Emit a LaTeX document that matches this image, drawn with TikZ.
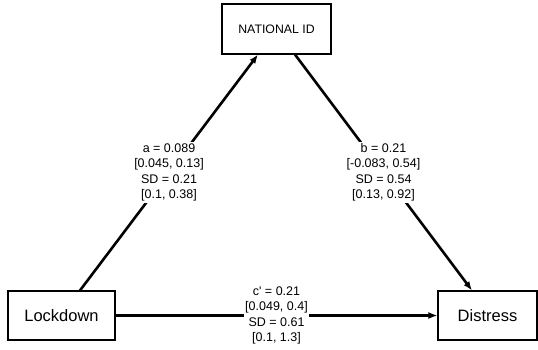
\documentclass[tikz,border=0pt]{standalone}
\usepackage{fontspec}
\setmainfont{Liberation Sans}
\usetikzlibrary{arrows.meta}
\begin{document}
\begin{tikzpicture}[x=1pt,y=-1pt,
  box/.style={draw,line width=1.1pt,fill=white,inner sep=0pt},
  conn/.style={line width=2.6pt,-{Latex[length=9pt,width=7pt]}},
  lab/.style={fill=white,align=center,font=\fontsize{12.5}{15.5}\selectfont,inner sep=1.5pt}]
\useasboundingbox (0,0) rectangle (538,350);
\node[box,minimum width=109pt,minimum height=50pt,font=\fontsize{12.3}{14}\selectfont] (N) at (276.5,29) {NATIONAL ID};
\node[box,minimum width=107pt,minimum height=49pt,font=\fontsize{16.5}{19}\selectfont] (L) at (61.5,315.5) {Lockdown};
\node[box,minimum width=99pt,minimum height=49pt,font=\fontsize{16.5}{19}\selectfont] (D) at (487.5,315.5) {Distress};
\draw[conn] ([xshift=18.5pt]L.north) -- node[lab]{a = 0.089\\{}[0.045, 0.13]\\SD = 0.21\\{}[0.1, 0.38]} ([xshift=-18.5pt]N.south);
\draw[conn] ([xshift=18.5pt]N.south) -- node[lab]{b = 0.21\\{}[-0.083, 0.54]\\SD = 0.54\\{}[0.13, 0.92]} ([xshift=-15.5pt]D.north);
\draw[conn] (L.east) -- node[lab]{c\textquotesingle{} = 0.21\\{}[0.049, 0.4]\\SD = 0.61\\{}[0.1, 1.3]} (D.west);
\end{tikzpicture}
\end{document}
